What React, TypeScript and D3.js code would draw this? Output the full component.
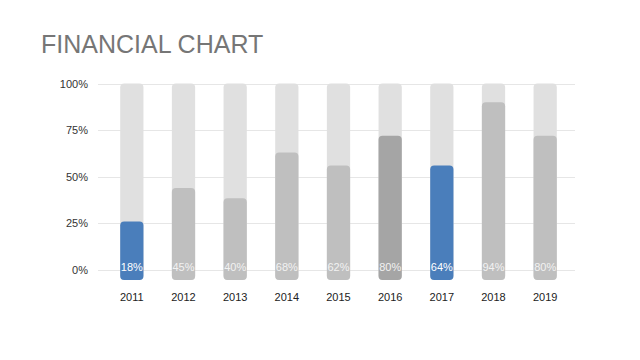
import React from 'react';
import * as d3 from 'd3';

const years = ['2011', '2012', '2013', '2014', '2015', '2016', '2017', '2018', '2019'];
// bar heights as drawn (fraction of 100%)
const values = [26, 44, 38.5, 63, 56, 72, 56, 90, 72];
// labels printed inside the bars
const labels = ['18%', '45%', '40%', '68%', '62%', '80%', '64%', '94%', '80%'];
const barColors = ['#4a7ebb', '#bfbfbf', '#bfbfbf', '#bfbfbf', '#bfbfbf', '#a5a5a5', '#4a7ebb', '#bfbfbf', '#bfbfbf'];
const yTicks = [0, 25, 50, 75, 100];

const width = 640;
const height = 360;

const App: React.FC = () => {
  const x = d3.scaleBand()
    .domain(years)
    .range([106, 571])
    .paddingInner(0.55)
    .paddingOuter(0.275);

  const y = d3.scaleLinear()
    .domain([0, 100])
    .range([270, 83.5]);

  const baseY = y(-5.3);
  const bw = x.bandwidth();

  return (
    <svg
      width={width}
      height={height}
      style={{ position: 'absolute', left: 0, top: 0, background: '#fff', fontFamily: 'Liberation Sans, Arial, sans-serif' }}
    >
      <text x={41} y={53} fontSize={25} fill="#767676">FINANCIAL CHART</text>

      {/* gridlines + y labels */}
      {yTicks.map(t => (
        <g key={t}>
          <line x1={98} x2={575} y1={Math.round(y(t)) + 0.5} y2={Math.round(y(t)) + 0.5} stroke="#e6e6e6" strokeWidth={1} />
          <text x={88} y={y(t) + 4} fontSize={11} textAnchor="end" fill="#333">{t}%</text>
        </g>
      ))}

      {years.map((yr, i) => {
        const bx = x(yr) || 0;
        return (
          <g key={yr}>
            <rect x={bx} y={y(100)} width={bw} height={baseY - y(100)} rx={4} fill="#e0e0e0" />
            <rect x={bx} y={y(values[i])} width={bw} height={baseY - y(values[i])} rx={4} fill={barColors[i]} />
            <text x={bx + bw / 2} y={y(0) + 1} fontSize={11} textAnchor="middle"
              fill={barColors[i] === '#4a7ebb' ? '#ffffff' : '#f2f2f2'}>{labels[i]}</text>
            <text x={bx + bw / 2} y={301} fontSize={11} textAnchor="middle" fill="#222">{yr}</text>
          </g>
        );
      })}
    </svg>
  );
};

export default App;
